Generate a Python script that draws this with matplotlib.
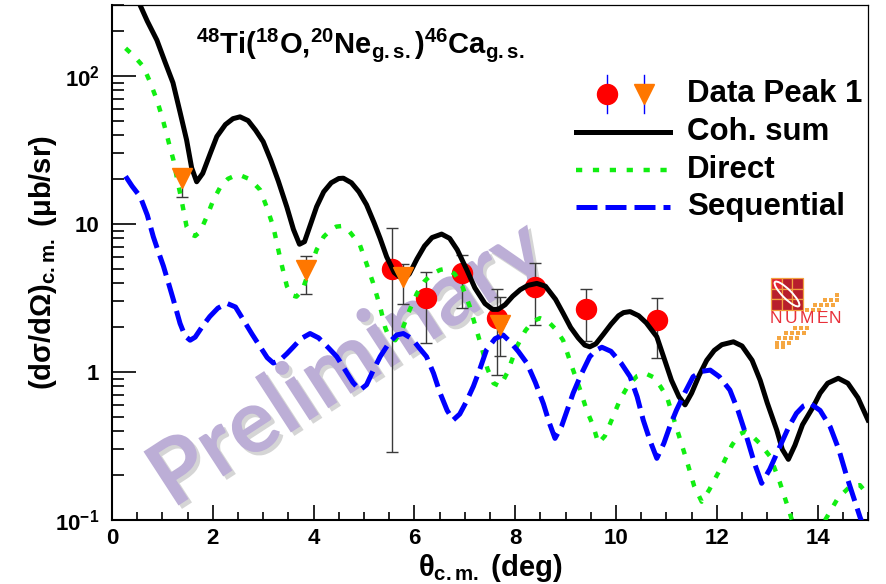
import numpy as np
import matplotlib
matplotlib.use("Agg")
import matplotlib.pyplot as plt
import matplotlib.patheffects as pe
from matplotlib.patches import Rectangle, Ellipse
from matplotlib.ticker import FixedLocator, FixedFormatter, MultipleLocator, LogLocator, NullFormatter

# ---------------------------------------------------------------- data
# Coherent sum of direct + sequential amplitudes
coh_theta = [0.27, 0.40, 0.56, 0.70, 0.89, 1.05, 1.21, 1.35, 1.48, 1.58, 1.68, 1.80, 1.95, 2.08,
             2.25, 2.40, 2.54, 2.70, 2.85, 3.00, 3.15, 3.30, 3.47, 3.60, 3.72, 3.82, 3.95, 4.06,
             4.20, 4.35, 4.50, 4.59, 4.75, 4.90, 5.05, 5.20, 5.32, 5.45, 5.60, 5.78, 5.90, 6.05,
             6.20, 6.35, 6.54, 6.70, 6.85, 7.04, 7.20, 7.40, 7.55, 7.66, 7.80, 7.95, 8.10, 8.25,
             8.43, 8.60, 8.80, 8.95, 9.10, 9.25, 9.38, 9.48, 9.60, 9.75, 9.90, 10.05, 10.15, 10.28,
             10.45, 10.60, 10.81, 10.95, 11.10, 11.25, 11.37, 11.50, 11.65, 11.80, 11.95, 12.10,
             12.33, 12.50, 12.70, 12.86, 13.00, 13.19, 13.30, 13.42, 13.55, 13.70, 13.91, 14.05,
             14.20, 14.41, 14.60, 14.80, 15.00]
coh_xs = [600, 430, 300, 235, 175, 125, 90, 57, 37, 24, 19.3, 22, 30, 39,
          47, 51.5, 53, 50, 43, 36, 27, 19.5, 13, 9.2, 7.3, 7.6, 10.2, 13.1,
          16.5, 19, 20.3, 20.4, 19, 16.5, 13.5, 10.2, 8.0, 6.0, 4.7, 4.2, 4.6, 5.8,
          7.1, 8.1, 8.55, 8.0, 6.7, 4.9, 3.7, 2.9, 2.65, 2.65, 2.85, 3.25, 3.6, 3.85,
          3.97, 3.8, 3.1, 2.5, 2.0, 1.7, 1.52, 1.48, 1.55, 1.8, 2.1, 2.4, 2.52, 2.56,
          2.4, 2.15, 1.73, 1.25, 0.88, 0.68, 0.60, 0.72, 0.95, 1.2, 1.4, 1.53,
          1.60, 1.5, 1.2, 0.88, 0.62, 0.405, 0.30, 0.257, 0.32, 0.44, 0.58, 0.72,
          0.84, 0.907, 0.84, 0.67, 0.474]

# Direct (one-step) transfer
dir_theta = [0.27, 0.45, 0.62, 0.75, 0.89, 1.00, 1.08, 1.15, 1.22, 1.30, 1.38, 1.48, 1.57, 1.65,
             1.75, 1.88, 2.01, 2.15, 2.30, 2.45, 2.54, 2.70, 2.85, 2.94, 3.07, 3.20, 3.35, 3.47,
             3.57, 3.66, 3.78, 3.90, 4.06, 4.20, 4.35, 4.45, 4.56, 4.70, 4.82, 4.92, 5.05, 5.18,
             5.32, 5.42, 5.50, 5.62, 5.75, 5.90, 6.05, 6.20, 6.35, 6.51, 6.64, 6.80, 6.95, 7.10,
             7.20, 7.33, 7.45, 7.57, 7.70, 7.85, 8.03, 8.20, 8.35, 8.49, 8.65, 8.80, 8.95, 9.10,
             9.29, 9.42, 9.55, 9.65, 9.78, 9.92, 10.08, 10.25, 10.42, 10.58, 10.75, 10.88, 11.01,
             11.20, 11.40, 11.55, 11.70, 11.85, 12.00, 12.13, 12.30, 12.45, 12.56, 12.70, 12.85,
             13.06, 13.25, 13.45, 13.60, 13.80, 13.95, 14.15, 14.40, 14.64, 14.84, 15.00]
dir_xs = [154, 135, 116, 92, 69, 52, 41, 33, 27, 19.5, 14.5, 9.6, 8.5, 8.3,
          8.9, 11.2, 14.5, 17.8, 20.2, 21.3, 21.4, 20.3, 18.3, 17, 13, 9.6, 5.6, 3.8,
          3.3, 3.23, 3.6, 4.7, 6.7, 8.2, 9.2, 9.6, 9.7, 9.0, 8.0, 7.2, 5.4, 4.0,
          2.76, 2.0, 1.7, 1.64, 1.9, 2.6, 3.4, 4.1, 4.6, 4.9, 5.0, 4.6, 3.8, 2.76,
          2.1, 1.48, 1.05, 0.84, 0.80, 1.0, 1.48, 1.9, 2.2, 2.31, 2.2, 1.95, 1.64, 1.15,
          0.755, 0.55, 0.43, 0.33, 0.37, 0.48, 0.65, 0.82, 0.94, 0.98, 0.92, 0.80, 0.68,
          0.42, 0.254, 0.17, 0.133, 0.16, 0.20, 0.242, 0.32, 0.38, 0.395, 0.37, 0.33,
          0.268, 0.18, 0.111, 0.075, 0.058, 0.07, 0.10, 0.14, 0.168, 0.172, 0.148]

# Sequential (two-step) transfer
seq_theta = [0.27, 0.40, 0.56, 0.70, 0.82, 0.92, 1.02, 1.12, 1.22, 1.35, 1.45, 1.55, 1.65, 1.80,
             1.94, 2.10, 2.28, 2.45, 2.61, 2.78, 2.94, 3.08, 3.20, 3.33, 3.47, 3.60, 3.75, 3.93,
             4.10, 4.30, 4.46, 4.65, 4.78, 4.92, 5.05, 5.18, 5.32, 5.50, 5.65, 5.78, 5.95, 6.10,
             6.24, 6.38, 6.51, 6.65, 6.77, 6.90, 7.03, 7.17, 7.30, 7.43, 7.60, 7.76, 7.90, 8.06,
             8.23, 8.40, 8.56, 8.68, 8.79, 8.92, 9.03, 9.15, 9.30, 9.48, 9.60, 9.72, 9.90, 10.10,
             10.28, 10.42, 10.54, 10.68, 10.81, 10.95, 11.08, 11.20, 11.37, 11.53, 11.70, 11.87,
             12.05, 12.26, 12.42, 12.59, 12.75, 12.89, 13.05, 13.25, 13.42, 13.58, 13.72, 13.85,
             14.05, 14.25, 14.42, 14.58, 14.72, 14.84, 15.00]
seq_xs = [21, 18, 15.3, 11.5, 8.2, 6.5, 5.2, 4.0, 3.06, 2.13, 1.75, 1.64, 1.72, 2.05,
          2.37, 2.7, 2.91, 2.75, 2.24, 1.8, 1.48, 1.25, 1.15, 1.2, 1.33, 1.48, 1.68, 1.82,
          1.7, 1.45, 1.27, 1.0, 0.85, 0.755, 0.82, 1.02, 1.27, 1.58, 1.78, 1.82, 1.68, 1.45,
          1.27, 0.98, 0.72, 0.55, 0.474, 0.52, 0.63, 0.80, 1.05, 1.41, 1.68, 1.78, 1.6, 1.38,
          1.15, 0.85, 0.61, 0.45, 0.356, 0.43, 0.55, 0.72, 0.95, 1.27, 1.4, 1.47, 1.38, 1.15,
          0.93, 0.68, 0.474, 0.34, 0.261, 0.33, 0.44, 0.553, 0.73, 0.93, 1.01, 1.03,
          0.93, 0.755, 0.55, 0.366, 0.24, 0.177, 0.22, 0.313, 0.42, 0.526, 0.59, 0.614,
          0.55, 0.426, 0.30, 0.196, 0.14, 0.105, 0.075]

# Measured cross sections, Peak 1 (two data sets)
circ_theta = [5.55, 6.24, 6.95, 7.63, 8.39, 9.40, 10.82]
circ_xs = [5.0, 3.15, 4.64, 2.31, 3.77, 2.65, 2.24]
circ_lo = [0.29, 1.56, 2.69, 0.955, 2.08, 1.63, 1.24]
circ_hi = [9.45, 4.76, 6.18, 3.64, 5.42, 3.63, 3.18]

tri_theta = [1.38, 3.85, 5.78, 7.70]
tri_xs = [20.4, 4.89, 4.41, 2.08]
tri_lo = [15.3, 3.35, 2.88, 1.29]
tri_hi = [23.4, 6.08, 5.35, 3.2]

x_ticks = [0, 2, 4, 6, 8, 10, 12, 14]
y_ticks = [0.1, 1, 10, 100]
y_tick_labels = [r"$10^{-1}$", "1", "10", r"$10^{2}$"]
legend_labels = ["Data Peak 1", "Coh. sum", "Direct", "Sequential"]

# ---------------------------------------------------------------- style
plt.rcParams["font.family"] = ["Liberation Sans", "DejaVu Sans"]
plt.rcParams["font.weight"] = "bold"
plt.rcParams["mathtext.fontset"] = "custom"
plt.rcParams["mathtext.rm"] = "Liberation Sans:bold"
plt.rcParams["mathtext.bf"] = "Liberation Sans:bold"
plt.rcParams["mathtext.sf"] = "Liberation Sans:bold"
plt.rcParams["mathtext.it"] = "Liberation Sans"

RED = "#ff0000"
ORANGE = "#ff7700"
GREEN = "#11ee11"
BLUE = "#0000ff"

W, H = 886, 584
fig = plt.figure(figsize=(W / 100, H / 100), dpi=100)
ax = fig.add_axes([112 / W, 1 - 520 / H, 756 / W, 515 / H])

ax.set_xlim(0, 15)
ax.set_yscale("log")
ax.set_ylim(0.1, 10 ** 2.48)

# curves
coh_style = dict(color="black", lw=3.6)
dir_style = dict(color=GREEN, lw=3.2, linestyle=(0, (1.4, 2.4)))
seq_style = dict(color=BLUE, lw=3.6, linestyle=(0, (4.2, 1.6)))

# data with asymmetric errors
circ_err = [np.array(circ_xs) - np.array(circ_lo), np.array(circ_hi) - np.array(circ_xs)]
tri_err = [np.array(tri_xs) - np.array(tri_lo), np.array(tri_hi) - np.array(tri_xs)]
ax.errorbar(circ_theta, circ_xs, yerr=circ_err, fmt="none", ecolor="#3a3a3a",
            elinewidth=1.0, capsize=4, capthick=1.0, zorder=2)
ax.errorbar(tri_theta, tri_xs, yerr=tri_err, fmt="none", ecolor="#3a3a3a",
            elinewidth=1.0, capsize=4, capthick=1.0, zorder=2)
ax.plot(circ_theta, circ_xs, "o", ms=14.4, color=RED, mec=RED, zorder=3)

ax.plot(coh_theta, coh_xs, zorder=4, **coh_style)
ax.plot(dir_theta, dir_xs, zorder=4, **dir_style)
ax.plot(seq_theta, seq_xs, zorder=4, **seq_style)

ax.plot(tri_theta, tri_xs, "v", ms=14, color=ORANGE, mec=ORANGE, zorder=5)

# axes, ticks
ax.xaxis.set_major_locator(FixedLocator(x_ticks))
ax.xaxis.set_minor_locator(MultipleLocator(0.5))
ax.yaxis.set_major_locator(FixedLocator(y_ticks))
ax.yaxis.set_major_formatter(FixedFormatter(y_tick_labels))
ax.yaxis.set_minor_locator(LogLocator(base=10, subs=np.arange(2, 10)))
ax.yaxis.set_minor_formatter(NullFormatter())

ax.tick_params(axis="y", which="major", direction="in", length=17, width=1.2, pad=9, labelsize=16)
ax.tick_params(axis="y", which="minor", direction="in", length=8.6, width=1.2)
ax.tick_params(axis="x", which="major", direction="in", length=11, width=1.2, pad=6, labelsize=16)
ax.tick_params(axis="x", which="minor", direction="in", length=5.8, width=1.2)
for lab in ax.get_xticklabels() + ax.get_yticklabels():
    lab.set_fontweight("bold")

ax.spines["left"].set_linewidth(1.5)
ax.spines["bottom"].set_linewidth(1.5)
ax.spines["top"].set_linewidth(0.9)
ax.spines["right"].set_linewidth(0.9)

ax.set_xlabel(r"$\theta_{\mathregular{c.m.}}$ (deg)", fontsize=21, fontweight="bold")
ax.xaxis.set_label_coords(0.5, -0.062)
ax.set_ylabel(r"(d$\sigma$/d$\Omega$)$_{\mathregular{c.m.}}$ ($\mu$b/sr)", fontsize=21,
              fontweight="bold")
ax.yaxis.set_label_coords(-0.070, 0.5)

# reaction label
ax.text(0.328, 0.907,
        r"$^{48}$Ti($^{18}$O,$^{20}$Ne$_{\mathregular{g.s.}}$)$^{46}$Ca$_{\mathregular{g.s.}}$",
        transform=ax.transAxes, ha="center", va="baseline", fontsize=21, fontweight="bold")

# legend
tr = ax.transAxes
row_y = [0.827, 0.753, 0.680, 0.608]
x0, x1, xt = 0.614, 0.738, 0.7606
for xm, mk, col, ms in [(0.655, "o", RED, 14.4), (0.704, "v", ORANGE, 14)]:
    ax.plot([xm, xm], [0.790, 0.864], color=BLUE, lw=1.0, transform=tr, clip_on=False, zorder=6)
    ax.plot([xm], [row_y[0]], mk, ms=ms, color=col, mec=col, transform=tr, clip_on=False, zorder=7)
ax.plot([x0, x1], [row_y[1]] * 2, transform=tr, clip_on=False, zorder=6, **coh_style)
ax.plot([x0, x1], [row_y[2]] * 2, transform=tr, clip_on=False, zorder=6, **dir_style)
ax.plot([x0, x1], [row_y[3]] * 2, transform=tr, clip_on=False, zorder=6, **seq_style)
for yy, lab in zip(row_y, legend_labels):
    ax.text(xt, yy, lab, transform=tr, ha="left", va="center", fontsize=22.5, fontweight="bold")

# watermark
ax.text(0.312, 0.302, "Preliminary", transform=tr, ha="center", va="center",
        rotation=33, rotation_mode="anchor", fontsize=64, family="Lato", fontweight="bold",
        color="#bcaed6", zorder=1,
        path_effects=[pe.SimplePatchShadow(offset=(2.5, -2.5), shadow_rgbFace="#888888", alpha=0.35),
                      pe.Normal()])

# NUMEN logo
lg = fig.add_axes([768 / W, 1 - 350 / H, 77 / W, 75 / H])
lg.set_xlim(0, 77)
lg.set_ylim(75, 0)
lg.axis("off")
cell = 32 / 3
for i in range(3):
    for j in range(3):
        fc = "#e02430" if (i == 0 and j == 0) else "#b81e2c"
        lg.add_patch(Rectangle((3 + i * cell, 3 + j * cell), cell, cell, facecolor=fc,
                               edgecolor="#f2a040", lw=0.9))
lg.add_patch(Ellipse((19, 19), 34, 9, angle=45, facecolor="none", edgecolor="white", lw=1.4))
for cx, ch in zip([7.5, 22.8, 38.7, 54.5, 66.7], "NUMEN"):
    lg.text(cx, 43.5, ch, ha="center", va="center", fontsize=12.5, color="#e8303a",
            family="Liberation Sans", fontweight="normal")
sq = 4.2
upper = [(67, 18), (55, 23), (61, 23), (67, 23), (45, 28), (51, 28), (57, 28), (63, 28),
         (37, 33), (43, 33), (49, 33)]
lower = [(25, 51), (31, 51), (37, 51), (16, 56), (22, 56), (28, 56), (34, 56),
         (9, 61), (15, 61), (21, 61), (27, 61), (7, 66), (13, 66), (19, 66), (7, 70), (13, 70)]
for (px, py) in upper + lower:
    lg.add_patch(Rectangle((px, py), sq, sq, facecolor="#f5a742", edgecolor="none"))

fig.savefig("out.png", dpi=100)
